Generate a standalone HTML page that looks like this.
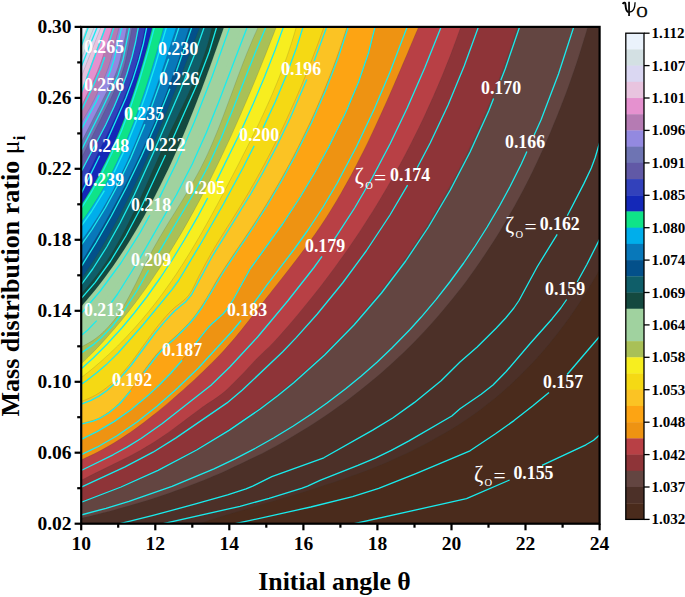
<!DOCTYPE html>
<html><head><meta charset="utf-8"><title>Contour</title>
<style>
html,body{margin:0;padding:0;background:#fff;}
body{width:685px;height:597px;overflow:hidden;font-family:"Liberation Serif",serif;}
svg{display:block;}
text{font-family:"Liberation Serif",serif;font-weight:bold;}
</style></head><body>
<svg width="685" height="597" viewBox="0 0 685 597">
<defs><clipPath id="pc"><rect x="81.2" y="26.9" width="518.4" height="496.8"/></clipPath></defs>
<rect x="0" y="0" width="685" height="597" fill="#fff"/>
<g clip-path="url(#pc)">
<rect x="81.2" y="26.9" width="518.4" height="496.8" fill="#4a2b1c"/>
<path d="M174.3,531.7 C178.0,530.5 190.0,526.5 197.5,524.1 C204.9,521.7 213.3,519.0 220.8,516.7 C228.4,514.4 236.9,511.8 244.5,509.6 C252.1,507.3 260.6,504.8 268.2,502.5 C275.8,500.3 284.4,497.8 291.9,495.5 C299.5,493.2 308.0,490.6 315.4,488.2 C322.9,485.8 331.3,483.1 338.6,480.6 C345.9,478.1 354.1,475.2 361.2,472.5 C368.4,469.8 376.3,466.7 383.3,463.7 C390.2,460.8 397.9,457.4 404.6,454.3 C411.3,451.1 418.5,447.5 425.1,444.1 C431.7,440.6 439.3,436.3 445.6,432.6 C451.9,428.8 458.6,424.6 464.5,420.7 C470.4,416.8 476.9,412.2 482.5,407.9 C488.1,403.7 494.3,398.8 499.6,394.3 C504.9,389.7 510.8,384.5 515.8,379.7 C520.9,374.9 526.4,369.3 531.2,364.3 C536.0,359.2 541.2,353.4 545.7,348.0 C550.2,342.7 555.2,336.6 559.4,331.0 C563.7,325.4 568.4,319.0 572.4,313.2 C576.4,307.4 580.8,300.7 584.6,294.7 C588.4,288.6 592.6,281.7 596.2,275.4 C599.8,269.2 605.4,258.9 607.2,255.7 L649.6,255.7 L649.6,-50.0 L-50.0,-50.0 L-50.0,573.7 L174.3,573.7 Z" fill="#4c3028"/>
<path d="M74.3,519.8 C79.6,518.5 97.3,514.4 107.6,511.7 C117.9,509.0 128.5,506.0 138.5,503.0 C148.4,500.0 160.1,496.2 169.7,492.9 C179.3,489.5 189.2,485.8 198.5,482.2 C207.8,478.5 218.5,474.0 227.6,469.9 C236.8,465.8 247.0,460.9 255.7,456.6 C264.3,452.3 273.2,447.6 281.5,442.9 C289.8,438.2 299.5,432.5 307.4,427.5 C315.4,422.5 323.6,417.1 331.3,411.8 C338.9,406.5 347.7,400.1 355.1,394.3 C362.6,388.6 371.0,381.7 378.0,375.8 C384.9,369.8 392.1,363.4 398.8,357.1 C405.4,350.8 413.2,343.1 419.5,336.4 C425.9,329.8 432.4,322.7 438.4,315.7 C444.4,308.8 451.2,300.5 457.1,293.1 C462.9,285.7 469.4,277.0 474.7,269.4 C480.1,261.9 485.6,253.7 490.7,245.8 C495.8,238.0 501.7,228.4 506.5,220.2 C511.2,212.1 516.1,203.3 520.6,194.9 C525.1,186.4 530.2,176.4 534.5,167.4 C538.8,158.5 543.6,148.1 547.5,139.1 C551.4,130.1 555.4,120.4 559.1,111.1 C562.8,101.8 567.0,90.6 570.4,81.0 C573.8,71.5 577.2,61.2 580.3,51.4 C583.5,41.6 588.4,24.8 590.0,19.7 L590.0,-50.0 L-50.0,-50.0 L-50.0,519.8 Z" fill="#634541"/>
<path d="M73.3,504.7 C77.7,503.0 92.5,497.8 101.0,494.4 C109.6,491.1 118.5,487.4 126.8,483.8 C135.1,480.2 144.9,475.8 152.9,471.9 C160.9,468.1 169.3,463.8 177.0,459.7 C184.8,455.6 193.9,450.5 201.5,446.1 C209.0,441.7 216.8,437.0 224.0,432.3 C231.3,427.7 239.8,422.0 246.8,417.1 C253.8,412.2 261.1,406.9 267.8,401.7 C274.6,396.6 282.3,390.4 289.0,384.9 C295.6,379.3 303.1,372.8 309.3,367.2 C315.6,361.5 322.0,355.4 328.0,349.5 C334.0,343.6 341.0,336.4 346.8,330.3 C352.6,324.2 358.5,317.6 364.0,311.2 C369.5,304.8 376.0,297.0 381.3,290.4 C386.6,283.8 392.0,276.7 397.1,269.8 C402.1,263.0 407.9,254.8 412.8,247.6 C417.7,240.3 423.2,231.9 427.8,224.5 C432.4,217.2 437.1,209.4 441.4,201.8 C445.8,194.3 450.8,185.1 455.0,177.3 C459.1,169.6 463.3,161.2 467.2,153.2 C471.1,145.2 475.7,135.6 479.3,127.3 C483.0,119.1 486.8,110.3 490.3,101.9 C493.7,93.5 497.7,83.3 501.0,74.6 C504.2,66.0 507.6,56.7 510.6,47.9 C513.6,39.0 518.5,23.8 520.0,19.2 L520.0,-50.0 L-50.0,-50.0 L-50.0,504.7 Z" fill="#8e3438"/>
<path d="M73.7,484.1 C77.2,482.3 88.6,476.5 95.9,472.8 C103.2,469.2 112.1,465.0 119.4,461.3 C126.7,457.7 134.4,453.8 141.4,449.8 C148.3,445.8 156.3,440.7 162.9,436.3 C169.4,431.9 176.0,426.9 182.3,422.2 C188.6,417.6 195.9,411.8 202.3,407.2 C208.7,402.7 216.1,398.6 222.2,393.6 C228.2,388.7 234.6,382.0 240.0,376.5 C245.5,371.0 250.9,364.6 256.2,359.2 C261.5,353.8 267.9,348.3 273.2,342.7 C278.6,337.1 284.6,330.1 289.7,324.2 C294.7,318.3 300.0,312.0 304.9,306.0 C309.9,299.9 315.7,292.7 320.5,286.5 C325.2,280.3 330.2,273.7 334.8,267.4 C339.5,261.0 344.9,253.4 349.4,246.9 C353.9,240.4 358.6,233.4 362.8,226.9 C367.0,220.4 371.6,213.2 375.8,206.4 C379.9,199.6 384.8,191.4 388.8,184.4 C392.8,177.4 397.0,170.0 400.8,162.9 C404.7,155.8 409.1,147.2 412.8,139.9 C416.5,132.6 420.3,124.8 423.8,117.4 C427.3,109.9 431.4,100.9 434.7,93.3 C438.0,85.7 441.5,77.6 444.6,69.8 C447.8,62.0 451.5,52.5 454.4,44.6 C457.4,36.6 461.9,23.9 463.3,20.0 L463.3,-50.0 L-50.0,-50.0 L-50.0,484.1 Z" fill="#b84045"/>
<path d="M73.9,463.1 C77.3,461.5 88.5,456.7 95.3,453.3 C102.1,449.8 109.8,445.4 116.2,441.6 C122.5,437.7 129.1,433.2 134.9,429.1 C140.7,424.9 146.9,420.2 152.6,415.6 C158.3,411.1 165.0,405.6 170.5,400.9 C176.0,396.2 181.9,391.1 187.1,386.3 C192.4,381.6 198.1,376.4 203.3,371.3 C208.5,366.3 214.6,360.2 219.6,355.0 C224.5,349.8 229.7,344.0 234.3,338.6 C238.9,333.2 243.7,327.0 248.2,321.3 C252.7,315.6 258.0,308.7 262.5,303.0 C266.9,297.2 271.8,291.1 276.2,285.5 C280.6,279.9 285.6,273.7 289.9,268.0 C294.3,262.4 299.1,256.2 303.4,250.3 C307.7,244.5 312.8,237.4 317.0,231.3 C321.2,225.3 325.5,218.7 329.4,212.5 C333.2,206.4 337.3,199.5 341.1,193.0 C344.8,186.6 349.1,178.7 352.7,172.1 C356.2,165.4 359.9,158.1 363.3,151.5 C366.6,144.8 370.2,137.4 373.4,130.4 C376.7,123.5 380.5,115.1 383.7,108.1 C386.9,101.1 390.2,93.4 393.2,86.5 C396.3,79.5 399.6,71.8 402.6,64.6 C405.7,57.5 409.3,48.9 412.3,41.7 C415.3,34.6 420.1,23.3 421.5,19.8 L421.5,-50.0 L-50.0,-50.0 L-50.0,463.1 Z" fill="#ee9312"/>
<path d="M73.5,442.9 C76.9,441.3 88.1,436.2 94.7,432.7 C101.3,429.2 108.4,425.0 114.5,421.1 C120.7,417.2 127.2,412.5 133.0,408.1 C138.8,403.6 145.4,398.0 150.8,393.1 C156.2,388.2 161.8,382.7 166.7,377.6 C171.6,372.4 176.9,366.4 181.5,361.0 C186.1,355.5 191.0,349.0 195.5,343.4 C199.9,337.8 204.7,331.2 209.5,326.0 C214.4,320.8 221.3,316.4 225.9,310.9 C230.4,305.4 234.1,297.8 237.8,291.4 C241.5,285.0 244.9,277.3 248.8,271.0 C252.8,264.6 258.0,257.7 262.3,251.7 C266.6,245.7 271.5,239.5 275.7,233.6 C279.9,227.8 284.6,221.1 288.6,215.1 C292.6,209.0 297.1,202.1 300.9,195.9 C304.8,189.7 309.0,182.6 312.7,176.2 C316.3,169.8 320.4,162.5 323.9,156.0 C327.4,149.5 331.3,142.0 334.7,135.3 C338.0,128.6 341.7,121.2 345.0,114.1 C348.2,107.1 351.9,98.6 354.9,91.3 C357.9,84.0 360.9,76.0 363.5,68.4 C366.0,60.9 368.7,52.3 370.9,44.4 C373.0,36.4 375.9,23.0 376.9,18.9 L376.9,-50.0 L-50.0,-50.0 L-50.0,442.9 Z" fill="#fda413"/>
<path d="M73.4,425.4 C77.4,424.3 91.5,421.6 98.6,418.4 C105.6,415.1 112.0,410.1 117.5,405.1 C123.0,400.1 128.2,392.9 132.8,386.9 C137.3,381.0 141.6,373.8 146.0,367.9 C150.4,362.0 155.3,355.4 160.3,350.1 C165.3,344.8 171.9,340.0 177.2,334.8 C182.6,329.6 188.8,323.5 193.5,317.7 C198.2,311.8 202.5,304.8 206.5,298.4 C210.4,292.1 214.3,284.4 218.2,278.0 C222.1,271.6 226.7,264.7 230.9,258.4 C235.0,252.1 240.2,244.8 244.4,238.5 C248.6,232.2 253.2,225.4 257.2,219.1 C261.2,212.8 265.6,205.7 269.5,199.2 C273.3,192.8 277.5,185.6 281.3,178.8 C285.1,172.1 289.4,164.1 293.0,157.2 C296.6,150.3 300.5,142.7 303.8,135.7 C307.2,128.8 310.9,120.9 314.1,113.8 C317.2,106.7 320.7,98.7 323.7,91.3 C326.8,83.8 330.3,74.9 333.2,67.3 C336.0,59.6 339.0,51.2 341.6,43.5 C344.2,35.8 348.2,23.1 349.5,19.2 L349.5,-50.0 L-50.0,-50.0 L-50.0,425.4 Z" fill="#fbc324"/>
<path d="M74.0,404.3 C77.5,402.8 89.5,398.7 96.0,394.9 C102.5,391.2 109.2,385.8 114.6,381.0 C119.9,376.1 124.9,370.1 129.5,364.5 C134.1,358.8 139.0,351.7 143.3,345.8 C147.7,339.9 152.0,333.3 156.6,327.6 C161.1,321.9 166.6,315.3 171.7,310.2 C176.8,305.1 184.0,301.4 188.5,295.6 C193.0,289.9 196.2,281.0 199.8,274.4 C203.4,267.7 207.2,260.4 210.8,254.0 C214.5,247.6 218.8,240.8 222.7,234.5 C226.6,228.2 231.4,220.8 235.3,214.5 C239.2,208.2 243.4,201.5 247.2,195.0 C251.0,188.6 255.4,180.9 259.0,174.3 C262.6,167.7 266.4,160.5 269.9,153.8 C273.4,147.0 277.4,138.9 280.7,132.0 C284.0,125.1 287.5,117.6 290.6,110.6 C293.8,103.5 297.5,95.1 300.5,87.9 C303.5,80.7 306.7,72.9 309.6,65.6 C312.5,58.2 315.8,49.5 318.6,42.0 C321.3,34.6 325.5,22.6 326.9,18.9 L326.9,-50.0 L-50.0,-50.0 L-50.0,404.3 Z" fill="#f5d914"/>
<path d="M73.4,383.6 C76.3,381.4 85.8,374.2 91.5,369.5 C97.3,364.7 103.8,359.0 109.3,353.9 C114.7,348.9 120.4,343.3 125.5,337.9 C130.6,332.5 136.5,326.0 141.3,320.4 C146.2,314.7 151.2,308.5 155.8,302.6 C160.4,296.6 165.6,289.5 169.9,283.3 C174.3,277.2 178.7,270.4 182.8,264.0 C186.9,257.6 191.6,249.9 195.5,243.3 C199.4,236.8 203.6,229.5 207.3,222.8 C211.0,216.2 215.0,208.8 218.7,202.0 C222.4,195.1 226.6,187.0 230.2,180.1 C233.8,173.2 237.7,165.8 241.2,158.9 C244.8,151.9 248.9,143.7 252.4,136.7 C255.9,129.7 259.6,122.1 262.9,114.9 C266.2,107.8 270.1,99.3 273.2,91.9 C276.3,84.5 279.6,76.5 282.5,68.9 C285.3,61.3 288.6,52.1 291.1,44.2 C293.7,36.3 297.3,23.3 298.5,19.3 L298.5,-50.0 L-50.0,-50.0 L-50.0,383.6 Z" fill="#f7ee1f"/>
<path d="M73.6,371.2 C76.2,368.6 85.0,360.4 90.2,355.1 C95.4,349.9 101.0,344.0 106.0,338.4 C111.0,332.8 116.8,326.1 121.6,320.3 C126.3,314.5 131.4,308.0 135.9,302.0 C140.4,296.1 145.3,289.2 149.6,283.1 C153.8,276.9 158.5,269.9 162.6,263.5 C166.7,257.2 171.2,250.0 175.1,243.5 C179.1,237.0 183.3,229.7 187.2,222.9 C191.0,216.1 195.4,208.1 199.1,201.2 C202.8,194.3 206.7,186.6 210.2,179.7 C213.7,172.7 217.5,164.9 220.9,157.8 C224.3,150.7 228.0,142.7 231.3,135.6 C234.5,128.4 238.1,120.3 241.3,113.0 C244.5,105.7 247.9,97.6 251.1,90.1 C254.2,82.7 257.8,73.9 260.9,66.3 C263.9,58.8 267.2,50.5 270.1,43.0 C273.1,35.5 277.8,23.2 279.2,19.5 L279.2,-50.0 L-50.0,-50.0 L-50.0,371.2 Z" fill="#a9c057"/>
<path d="M73.8,350.6 C77.2,348.8 88.9,343.5 94.9,339.1 C101.0,334.7 106.9,328.7 111.7,323.1 C116.4,317.6 120.8,310.8 124.6,304.4 C128.5,297.9 132.5,289.9 136.0,283.0 C139.5,276.1 143.2,267.9 146.7,261.1 C150.2,254.3 154.1,247.0 157.9,240.5 C161.6,233.9 166.2,226.5 170.1,220.0 C174.1,213.5 178.7,206.4 182.6,199.9 C186.6,193.3 191.0,186.0 194.7,179.3 C198.5,172.5 202.5,164.7 205.9,157.7 C209.2,150.7 212.5,143.0 215.5,135.7 C218.6,128.4 221.9,119.7 224.7,112.2 C227.6,104.6 230.8,95.8 233.6,88.3 C236.4,80.8 239.3,72.6 242.2,65.2 C245.1,57.8 248.4,49.2 251.6,41.9 C254.7,34.6 260.1,23.0 261.7,19.4 L261.7,-50.0 L-50.0,-50.0 L-50.0,350.6 Z" fill="#a0d29f"/>
<path d="M73.5,335.1 C76.0,332.4 84.2,323.8 89.1,318.3 C93.9,312.8 99.3,306.5 103.9,300.8 C108.5,295.0 113.6,288.4 117.9,282.5 C122.3,276.5 127.1,269.6 131.2,263.4 C135.4,257.2 139.9,250.1 143.8,243.7 C147.8,237.3 152.1,230.0 155.8,223.4 C159.6,216.8 163.6,209.3 167.2,202.4 C170.8,195.6 174.9,187.4 178.4,180.4 C181.8,173.3 185.5,165.5 188.8,158.4 C192.0,151.3 195.6,143.2 198.7,136.0 C201.8,128.8 205.3,120.6 208.3,113.2 C211.3,105.9 214.6,97.6 217.5,90.1 C220.4,82.7 223.6,74.3 226.4,66.8 C229.3,59.2 232.4,50.7 235.2,43.1 C237.9,35.6 242.4,23.2 243.7,19.4 L243.7,-50.0 L-50.0,-50.0 L-50.0,335.1 Z" fill="#a0d29f"/>
<path d="M73.4,315.2 C75.8,312.5 83.6,303.9 88.2,298.3 C92.9,292.7 98.3,286.0 102.7,280.2 C107.2,274.3 111.8,267.8 116.0,261.7 C120.2,255.6 124.9,248.4 128.9,242.0 C132.9,235.7 137.0,228.7 140.8,222.1 C144.5,215.6 148.7,207.8 152.3,201.1 C155.8,194.3 159.6,186.8 162.9,180.0 C166.3,173.2 169.9,165.5 173.1,158.4 C176.3,151.3 179.9,143.0 183.0,135.7 C186.1,128.5 189.3,120.6 192.2,113.2 C195.2,105.9 198.5,97.2 201.4,89.8 C204.2,82.3 207.2,74.2 210.0,66.6 C212.7,59.1 215.8,50.2 218.5,42.6 C221.2,35.0 225.4,22.8 226.7,19.0 L226.7,-50.0 L-50.0,-50.0 L-50.0,315.2 Z" fill="#14493f"/>
<path d="M73.5,302.2 C76.0,299.5 84.3,290.8 89.0,285.1 C93.7,279.4 98.8,272.8 103.0,266.6 C107.3,260.4 111.8,253.2 115.7,246.6 C119.5,240.0 123.6,232.4 127.1,225.5 C130.7,218.6 134.5,210.7 137.8,203.6 C141.1,196.5 144.8,188.4 148.0,181.2 C151.2,174.0 154.8,165.8 158.0,158.6 C161.2,151.4 164.8,143.3 168.2,136.1 C171.5,129.0 175.3,121.1 178.7,114.1 C182.0,107.0 185.9,99.1 189.1,91.9 C192.4,84.8 196.0,76.6 198.9,69.1 C201.9,61.6 205.0,53.0 207.4,45.0 C209.8,37.0 213.0,23.2 214.0,19.0 L214.0,-50.0 L-50.0,-50.0 L-50.0,302.2 Z" fill="#0f5e69"/>
<path d="M73.3,290.6 C75.5,287.4 82.8,277.0 87.1,270.6 C91.3,264.2 95.9,257.1 99.9,250.5 C103.9,243.8 108.5,236.0 112.3,229.1 C116.1,222.3 120.1,214.6 123.7,207.6 C127.3,200.5 131.4,192.3 134.8,185.0 C138.3,177.7 142.2,169.3 145.5,161.9 C148.8,154.5 152.3,146.4 155.5,138.9 C158.6,131.4 162.2,122.6 165.3,115.1 C168.4,107.5 171.7,99.2 174.8,91.5 C177.8,83.9 181.3,75.0 184.3,67.3 C187.3,59.6 190.5,51.2 193.5,43.5 C196.5,35.9 201.4,23.1 202.9,19.3 L202.9,-50.0 L-50.0,-50.0 L-50.0,290.6 Z" fill="#03508a"/>
<path d="M73.4,274.8 C75.5,271.5 82.2,260.8 86.4,254.0 C90.5,247.2 95.2,239.4 99.3,232.5 C103.3,225.6 107.6,217.9 111.4,210.9 C115.3,203.9 119.5,196.1 123.2,188.9 C126.9,181.7 131.1,173.2 134.7,165.9 C138.2,158.5 142.0,150.4 145.4,142.9 C148.8,135.4 152.7,126.6 155.9,118.9 C159.1,111.2 162.6,102.6 165.6,94.9 C168.7,87.1 171.9,78.3 174.8,70.3 C177.7,62.3 181.0,52.9 183.7,44.7 C186.4,36.5 190.5,23.1 191.8,19.0 L191.8,-50.0 L-50.0,-50.0 L-50.0,274.8 Z" fill="#0878ba"/>
<path d="M73.5,251.4 C75.8,248.3 83.3,238.4 87.7,232.1 C92.2,225.7 96.9,218.5 101.0,211.7 C105.1,204.9 109.6,196.9 113.4,189.8 C117.1,182.7 121.1,174.6 124.5,167.3 C127.9,160.0 131.6,151.5 134.8,144.0 C138.0,136.4 141.4,127.7 144.4,119.9 C147.4,112.2 150.6,103.4 153.5,95.4 C156.3,87.4 159.5,78.0 162.3,69.9 C165.0,61.8 168.0,52.7 170.7,44.6 C173.3,36.5 177.6,23.3 178.9,19.3 L178.9,-50.0 L-50.0,-50.0 L-50.0,251.4 Z" fill="#00aeeb"/>
<path d="M73.3,232.7 C75.6,229.6 83.2,219.7 87.6,213.2 C92.1,206.7 97.0,199.0 101.1,192.2 C105.1,185.3 109.3,177.4 113.0,170.2 C116.6,163.0 120.4,154.7 123.7,147.1 C127.0,139.4 130.6,130.4 133.6,122.5 C136.6,114.6 139.8,105.7 142.5,97.6 C145.3,89.5 148.2,80.3 150.8,72.0 C153.3,63.6 156.2,53.9 158.6,45.4 C161.1,36.9 164.8,23.2 166.0,18.9 L166.0,-50.0 L-50.0,-50.0 L-50.0,232.7 Z" fill="#0fe388"/>
<path d="M73.4,217.3 C75.6,213.9 82.8,203.0 87.0,196.0 C91.2,189.0 95.8,181.0 99.7,173.7 C103.5,166.3 107.7,157.8 111.2,150.1 C114.7,142.5 118.4,133.5 121.6,125.6 C124.7,117.6 128.0,108.7 130.9,100.4 C133.8,92.2 136.9,82.6 139.5,74.0 C142.1,65.5 144.9,55.7 147.3,46.9 C149.7,38.1 153.3,23.5 154.5,19.1 L154.5,-50.0 L-50.0,-50.0 L-50.0,217.3 Z" fill="#1428b8"/>
<path d="M73.2,206.6 C74.8,203.0 79.9,191.4 83.2,184.2 C86.5,177.1 90.4,168.9 93.8,161.9 C97.2,154.8 101.1,147.2 104.5,140.2 C107.9,133.2 111.9,125.1 115.1,118.0 C118.4,110.8 122.0,102.8 125.0,95.4 C128.0,88.1 131.2,79.7 133.8,71.8 C136.4,64.0 139.1,54.7 141.1,46.3 C143.1,37.9 145.6,23.5 146.4,19.2 L146.4,-50.0 L-50.0,-50.0 L-50.0,206.6 Z" fill="#3241bb"/>
<path d="M73.3,187.3 C75.2,183.8 81.3,172.3 85.1,165.3 C88.8,158.3 93.0,150.6 96.6,143.5 C100.3,136.5 104.4,128.3 107.9,121.1 C111.4,113.8 115.1,105.7 118.2,98.1 C121.3,90.5 124.7,81.6 127.4,73.5 C130.0,65.4 132.7,56.2 134.7,47.6 C136.8,38.9 139.3,23.8 140.2,19.2 L140.2,-50.0 L-50.0,-50.0 L-50.0,187.3 Z" fill="#6159a6"/>
<path d="M78.5,164.2 C79.0,163.0 76.8,167.6 82.0,157.0 C87.2,146.4 104.3,112.4 111.0,98.0 C117.7,83.6 120.4,78.7 123.8,67.3 C127.2,55.9 130.6,34.7 132.2,27.0 C133.8,19.3 133.6,20.4 133.8,19.2 L133.8,-50.0 L-50.0,-50.0 L-50.0,164.2 Z" fill="#6e74b3"/>
<path d="M78.4,148.1 C79.0,147.0 78.0,149.0 82.0,141.0 C86.0,133.0 97.8,109.8 103.6,98.0 C109.4,86.2 114.3,78.7 118.0,67.3 C121.7,55.9 125.3,34.7 127.0,27.0 C128.7,19.3 128.5,20.4 128.7,19.2 L128.7,-50.0 L-50.0,-50.0 L-50.0,148.1 Z" fill="#9389e0"/>
<path d="M78.2,129.0 C78.8,127.9 79.3,127.0 82.0,122.0 C84.7,117.0 90.8,106.8 95.0,98.0 C99.2,89.2 104.6,78.7 108.5,67.3 C112.4,55.9 117.2,34.7 119.2,27.0 C121.2,19.3 120.9,20.5 121.3,19.3 L121.3,-50.0 L-50.0,-50.0 L-50.0,129.0 Z" fill="#b57bb3"/>
<path d="M78.7,112.3 C79.2,111.1 78.8,112.2 82.0,105.0 C85.2,97.8 94.2,79.8 99.0,67.3 C103.8,54.8 109.8,34.7 112.3,27.0 C114.8,19.3 114.4,20.6 114.8,19.4 L114.8,-50.0 L-50.0,-50.0 L-50.0,112.3 Z" fill="#e591cf"/>
<path d="M79.3,97.5 C79.7,96.3 80.3,94.8 82.0,90.0 C83.7,85.2 86.5,77.4 90.2,67.3 C93.9,57.2 102.4,34.6 105.2,27.0 C108.0,19.4 107.5,20.7 108.0,19.5 L108.0,-50.0 L-50.0,-50.0 L-50.0,97.5 Z" fill="#e8c4df"/>
<path d="M79.1,82.5 C79.6,81.3 81.1,77.4 82.0,75.0 C82.9,72.6 82.0,75.0 85.0,67.3 C88.0,59.6 98.0,34.6 101.0,27.0 C104.0,19.4 103.5,20.8 104.0,19.6 L104.0,-50.0 L-50.0,-50.0 L-50.0,82.5 Z" fill="#dad7f2"/>
<path d="M79.0,64.4 C79.5,63.2 79.5,63.0 82.0,57.0 C84.5,51.0 91.8,33.0 94.3,27.0 C96.8,21.0 96.8,20.8 97.3,19.6 L97.3,-50.0 L-50.0,-50.0 L-50.0,64.4 Z" fill="#d3e0e3"/>
<path d="M79.3,48.5 C79.7,47.3 80.7,44.4 82.0,41.0 C83.3,37.6 85.8,30.4 87.1,27.0 C88.4,23.6 89.4,20.7 89.8,19.5 L89.8,-50.0 L-50.0,-50.0 L-50.0,48.5 Z" fill="#eaf2fb"/>
<path d="M79.3,48.5 C79.7,47.3 80.7,44.4 82.0,41.0 C83.3,37.6 85.8,30.4 87.1,27.0 C88.4,23.6 89.4,20.7 89.8,19.5" fill="none" stroke="#3a3a3a" stroke-opacity="0.22" stroke-width="0.7"/>
<path d="M79.0,64.4 C79.5,63.2 79.5,63.0 82.0,57.0 C84.5,51.0 91.8,33.0 94.3,27.0 C96.8,21.0 96.8,20.8 97.3,19.6" fill="none" stroke="#3a3a3a" stroke-opacity="0.22" stroke-width="0.7"/>
<path d="M79.1,82.5 C79.6,81.3 81.1,77.4 82.0,75.0 C82.9,72.6 82.0,75.0 85.0,67.3 C88.0,59.6 98.0,34.6 101.0,27.0 C104.0,19.4 103.5,20.8 104.0,19.6" fill="none" stroke="#3a3a3a" stroke-opacity="0.22" stroke-width="0.7"/>
<path d="M79.3,97.5 C79.7,96.3 80.3,94.8 82.0,90.0 C83.7,85.2 86.5,77.4 90.2,67.3 C93.9,57.2 102.4,34.6 105.2,27.0 C108.0,19.4 107.5,20.7 108.0,19.5" fill="none" stroke="#3a3a3a" stroke-opacity="0.22" stroke-width="0.7"/>
<path d="M78.7,112.3 C79.2,111.1 78.8,112.2 82.0,105.0 C85.2,97.8 94.2,79.8 99.0,67.3 C103.8,54.8 109.8,34.7 112.3,27.0 C114.8,19.3 114.4,20.6 114.8,19.4" fill="none" stroke="#3a3a3a" stroke-opacity="0.22" stroke-width="0.7"/>
<path d="M78.2,129.0 C78.8,127.9 79.3,127.0 82.0,122.0 C84.7,117.0 90.8,106.8 95.0,98.0 C99.2,89.2 104.6,78.7 108.5,67.3 C112.4,55.9 117.2,34.7 119.2,27.0 C121.2,19.3 120.9,20.5 121.3,19.3" fill="none" stroke="#3a3a3a" stroke-opacity="0.22" stroke-width="0.7"/>
<path d="M78.4,148.1 C79.0,147.0 78.0,149.0 82.0,141.0 C86.0,133.0 97.8,109.8 103.6,98.0 C109.4,86.2 114.3,78.7 118.0,67.3 C121.7,55.9 125.3,34.7 127.0,27.0 C128.7,19.3 128.5,20.4 128.7,19.2" fill="none" stroke="#3a3a3a" stroke-opacity="0.22" stroke-width="0.7"/>
<path d="M78.5,164.2 C79.0,163.0 76.8,167.6 82.0,157.0 C87.2,146.4 104.3,112.4 111.0,98.0 C117.7,83.6 120.4,78.7 123.8,67.3 C127.2,55.9 130.6,34.7 132.2,27.0 C133.8,19.3 133.6,20.4 133.8,19.2" fill="none" stroke="#3a3a3a" stroke-opacity="0.22" stroke-width="0.7"/>
<path d="M73.3,187.3 C75.2,183.8 81.3,172.3 85.1,165.3 C88.8,158.3 93.0,150.6 96.6,143.5 C100.3,136.5 104.4,128.3 107.9,121.1 C111.4,113.8 115.1,105.7 118.2,98.1 C121.3,90.5 124.7,81.6 127.4,73.5 C130.0,65.4 132.7,56.2 134.7,47.6 C136.8,38.9 139.3,23.8 140.2,19.2" fill="none" stroke="#3a3a3a" stroke-opacity="0.22" stroke-width="0.7"/>
<path d="M73.2,206.6 C74.8,203.0 79.9,191.4 83.2,184.2 C86.5,177.1 90.4,168.9 93.8,161.9 C97.2,154.8 101.1,147.2 104.5,140.2 C107.9,133.2 111.9,125.1 115.1,118.0 C118.4,110.8 122.0,102.8 125.0,95.4 C128.0,88.1 131.2,79.7 133.8,71.8 C136.4,64.0 139.1,54.7 141.1,46.3 C143.1,37.9 145.6,23.5 146.4,19.2" fill="none" stroke="#3a3a3a" stroke-opacity="0.22" stroke-width="0.7"/>
<path d="M73.4,217.3 C75.6,213.9 82.8,203.0 87.0,196.0 C91.2,189.0 95.8,181.0 99.7,173.7 C103.5,166.3 107.7,157.8 111.2,150.1 C114.7,142.5 118.4,133.5 121.6,125.6 C124.7,117.6 128.0,108.7 130.9,100.4 C133.8,92.2 136.9,82.6 139.5,74.0 C142.1,65.5 144.9,55.7 147.3,46.9 C149.7,38.1 153.3,23.5 154.5,19.1" fill="none" stroke="#3a3a3a" stroke-opacity="0.22" stroke-width="0.7"/>
<path d="M73.3,232.7 C75.6,229.6 83.2,219.7 87.6,213.2 C92.1,206.7 97.0,199.0 101.1,192.2 C105.1,185.3 109.3,177.4 113.0,170.2 C116.6,163.0 120.4,154.7 123.7,147.1 C127.0,139.4 130.6,130.4 133.6,122.5 C136.6,114.6 139.8,105.7 142.5,97.6 C145.3,89.5 148.2,80.3 150.8,72.0 C153.3,63.6 156.2,53.9 158.6,45.4 C161.1,36.9 164.8,23.2 166.0,18.9" fill="none" stroke="#3a3a3a" stroke-opacity="0.22" stroke-width="0.7"/>
<path d="M73.5,251.4 C75.8,248.3 83.3,238.4 87.7,232.1 C92.2,225.7 96.9,218.5 101.0,211.7 C105.1,204.9 109.6,196.9 113.4,189.8 C117.1,182.7 121.1,174.6 124.5,167.3 C127.9,160.0 131.6,151.5 134.8,144.0 C138.0,136.4 141.4,127.7 144.4,119.9 C147.4,112.2 150.6,103.4 153.5,95.4 C156.3,87.4 159.5,78.0 162.3,69.9 C165.0,61.8 168.0,52.7 170.7,44.6 C173.3,36.5 177.6,23.3 178.9,19.3" fill="none" stroke="#3a3a3a" stroke-opacity="0.22" stroke-width="0.7"/>
<path d="M73.4,274.8 C75.5,271.5 82.2,260.8 86.4,254.0 C90.5,247.2 95.2,239.4 99.3,232.5 C103.3,225.6 107.6,217.9 111.4,210.9 C115.3,203.9 119.5,196.1 123.2,188.9 C126.9,181.7 131.1,173.2 134.7,165.9 C138.2,158.5 142.0,150.4 145.4,142.9 C148.8,135.4 152.7,126.6 155.9,118.9 C159.1,111.2 162.6,102.6 165.6,94.9 C168.7,87.1 171.9,78.3 174.8,70.3 C177.7,62.3 181.0,52.9 183.7,44.7 C186.4,36.5 190.5,23.1 191.8,19.0" fill="none" stroke="#3a3a3a" stroke-opacity="0.22" stroke-width="0.7"/>
<path d="M73.3,290.6 C75.5,287.4 82.8,277.0 87.1,270.6 C91.3,264.2 95.9,257.1 99.9,250.5 C103.9,243.8 108.5,236.0 112.3,229.1 C116.1,222.3 120.1,214.6 123.7,207.6 C127.3,200.5 131.4,192.3 134.8,185.0 C138.3,177.7 142.2,169.3 145.5,161.9 C148.8,154.5 152.3,146.4 155.5,138.9 C158.6,131.4 162.2,122.6 165.3,115.1 C168.4,107.5 171.7,99.2 174.8,91.5 C177.8,83.9 181.3,75.0 184.3,67.3 C187.3,59.6 190.5,51.2 193.5,43.5 C196.5,35.9 201.4,23.1 202.9,19.3" fill="none" stroke="#3a3a3a" stroke-opacity="0.22" stroke-width="0.7"/>
<path d="M73.5,302.2 C76.0,299.5 84.3,290.8 89.0,285.1 C93.7,279.4 98.8,272.8 103.0,266.6 C107.3,260.4 111.8,253.2 115.7,246.6 C119.5,240.0 123.6,232.4 127.1,225.5 C130.7,218.6 134.5,210.7 137.8,203.6 C141.1,196.5 144.8,188.4 148.0,181.2 C151.2,174.0 154.8,165.8 158.0,158.6 C161.2,151.4 164.8,143.3 168.2,136.1 C171.5,129.0 175.3,121.1 178.7,114.1 C182.0,107.0 185.9,99.1 189.1,91.9 C192.4,84.8 196.0,76.6 198.9,69.1 C201.9,61.6 205.0,53.0 207.4,45.0 C209.8,37.0 213.0,23.2 214.0,19.0" fill="none" stroke="#3a3a3a" stroke-opacity="0.22" stroke-width="0.7"/>
<path d="M73.4,315.2 C75.8,312.5 83.6,303.9 88.2,298.3 C92.9,292.7 98.3,286.0 102.7,280.2 C107.2,274.3 111.8,267.8 116.0,261.7 C120.2,255.6 124.9,248.4 128.9,242.0 C132.9,235.7 137.0,228.7 140.8,222.1 C144.5,215.6 148.7,207.8 152.3,201.1 C155.8,194.3 159.6,186.8 162.9,180.0 C166.3,173.2 169.9,165.5 173.1,158.4 C176.3,151.3 179.9,143.0 183.0,135.7 C186.1,128.5 189.3,120.6 192.2,113.2 C195.2,105.9 198.5,97.2 201.4,89.8 C204.2,82.3 207.2,74.2 210.0,66.6 C212.7,59.1 215.8,50.2 218.5,42.6 C221.2,35.0 225.4,22.8 226.7,19.0" fill="none" stroke="#3a3a3a" stroke-opacity="0.22" stroke-width="0.7"/>
<path d="M73.8,350.6 C77.2,348.8 88.9,343.5 94.9,339.1 C101.0,334.7 106.9,328.7 111.7,323.1 C116.4,317.6 120.8,310.8 124.6,304.4 C128.5,297.9 132.5,289.9 136.0,283.0 C139.5,276.1 143.2,267.9 146.7,261.1 C150.2,254.3 154.1,247.0 157.9,240.5 C161.6,233.9 166.2,226.5 170.1,220.0 C174.1,213.5 178.7,206.4 182.6,199.9 C186.6,193.3 191.0,186.0 194.7,179.3 C198.5,172.5 202.5,164.7 205.9,157.7 C209.2,150.7 212.5,143.0 215.5,135.7 C218.6,128.4 221.9,119.7 224.7,112.2 C227.6,104.6 230.8,95.8 233.6,88.3 C236.4,80.8 239.3,72.6 242.2,65.2 C245.1,57.8 248.4,49.2 251.6,41.9 C254.7,34.6 260.1,23.0 261.7,19.4" fill="none" stroke="#3a3a3a" stroke-opacity="0.22" stroke-width="0.7"/>
<path d="M73.6,371.2 C76.2,368.6 85.0,360.4 90.2,355.1 C95.4,349.9 101.0,344.0 106.0,338.4 C111.0,332.8 116.8,326.1 121.6,320.3 C126.3,314.5 131.4,308.0 135.9,302.0 C140.4,296.1 145.3,289.2 149.6,283.1 C153.8,276.9 158.5,269.9 162.6,263.5 C166.7,257.2 171.2,250.0 175.1,243.5 C179.1,237.0 183.3,229.7 187.2,222.9 C191.0,216.1 195.4,208.1 199.1,201.2 C202.8,194.3 206.7,186.6 210.2,179.7 C213.7,172.7 217.5,164.9 220.9,157.8 C224.3,150.7 228.0,142.7 231.3,135.6 C234.5,128.4 238.1,120.3 241.3,113.0 C244.5,105.7 247.9,97.6 251.1,90.1 C254.2,82.7 257.8,73.9 260.9,66.3 C263.9,58.8 267.2,50.5 270.1,43.0 C273.1,35.5 277.8,23.2 279.2,19.5" fill="none" stroke="#3a3a3a" stroke-opacity="0.22" stroke-width="0.7"/>
<path d="M73.4,383.6 C76.3,381.4 85.8,374.2 91.5,369.5 C97.3,364.7 103.8,359.0 109.3,353.9 C114.7,348.9 120.4,343.3 125.5,337.9 C130.6,332.5 136.5,326.0 141.3,320.4 C146.2,314.7 151.2,308.5 155.8,302.6 C160.4,296.6 165.6,289.5 169.9,283.3 C174.3,277.2 178.7,270.4 182.8,264.0 C186.9,257.6 191.6,249.9 195.5,243.3 C199.4,236.8 203.6,229.5 207.3,222.8 C211.0,216.2 215.0,208.8 218.7,202.0 C222.4,195.1 226.6,187.0 230.2,180.1 C233.8,173.2 237.7,165.8 241.2,158.9 C244.8,151.9 248.9,143.7 252.4,136.7 C255.9,129.7 259.6,122.1 262.9,114.9 C266.2,107.8 270.1,99.3 273.2,91.9 C276.3,84.5 279.6,76.5 282.5,68.9 C285.3,61.3 288.6,52.1 291.1,44.2 C293.7,36.3 297.3,23.3 298.5,19.3" fill="none" stroke="#3a3a3a" stroke-opacity="0.22" stroke-width="0.7"/>
<path d="M74.0,404.3 C77.5,402.8 89.5,398.7 96.0,394.9 C102.5,391.2 109.2,385.8 114.6,381.0 C119.9,376.1 124.9,370.1 129.5,364.5 C134.1,358.8 139.0,351.7 143.3,345.8 C147.7,339.9 152.0,333.3 156.6,327.6 C161.1,321.9 166.6,315.3 171.7,310.2 C176.8,305.1 184.0,301.4 188.5,295.6 C193.0,289.9 196.2,281.0 199.8,274.4 C203.4,267.7 207.2,260.4 210.8,254.0 C214.5,247.6 218.8,240.8 222.7,234.5 C226.6,228.2 231.4,220.8 235.3,214.5 C239.2,208.2 243.4,201.5 247.2,195.0 C251.0,188.6 255.4,180.9 259.0,174.3 C262.6,167.7 266.4,160.5 269.9,153.8 C273.4,147.0 277.4,138.9 280.7,132.0 C284.0,125.1 287.5,117.6 290.6,110.6 C293.8,103.5 297.5,95.1 300.5,87.9 C303.5,80.7 306.7,72.9 309.6,65.6 C312.5,58.2 315.8,49.5 318.6,42.0 C321.3,34.6 325.5,22.6 326.9,18.9" fill="none" stroke="#3a3a3a" stroke-opacity="0.22" stroke-width="0.7"/>
<path d="M73.4,425.4 C77.4,424.3 91.5,421.6 98.6,418.4 C105.6,415.1 112.0,410.1 117.5,405.1 C123.0,400.1 128.2,392.9 132.8,386.9 C137.3,381.0 141.6,373.8 146.0,367.9 C150.4,362.0 155.3,355.4 160.3,350.1 C165.3,344.8 171.9,340.0 177.2,334.8 C182.6,329.6 188.8,323.5 193.5,317.7 C198.2,311.8 202.5,304.8 206.5,298.4 C210.4,292.1 214.3,284.4 218.2,278.0 C222.1,271.6 226.7,264.7 230.9,258.4 C235.0,252.1 240.2,244.8 244.4,238.5 C248.6,232.2 253.2,225.4 257.2,219.1 C261.2,212.8 265.6,205.7 269.5,199.2 C273.3,192.8 277.5,185.6 281.3,178.8 C285.1,172.1 289.4,164.1 293.0,157.2 C296.6,150.3 300.5,142.7 303.8,135.7 C307.2,128.8 310.9,120.9 314.1,113.8 C317.2,106.7 320.7,98.7 323.7,91.3 C326.8,83.8 330.3,74.9 333.2,67.3 C336.0,59.6 339.0,51.2 341.6,43.5 C344.2,35.8 348.2,23.1 349.5,19.2" fill="none" stroke="#3a3a3a" stroke-opacity="0.22" stroke-width="0.7"/>
<path d="M73.5,442.9 C76.9,441.3 88.1,436.2 94.7,432.7 C101.3,429.2 108.4,425.0 114.5,421.1 C120.7,417.2 127.2,412.5 133.0,408.1 C138.8,403.6 145.4,398.0 150.8,393.1 C156.2,388.2 161.8,382.7 166.7,377.6 C171.6,372.4 176.9,366.4 181.5,361.0 C186.1,355.5 191.0,349.0 195.5,343.4 C199.9,337.8 204.7,331.2 209.5,326.0 C214.4,320.8 221.3,316.4 225.9,310.9 C230.4,305.4 234.1,297.8 237.8,291.4 C241.5,285.0 244.9,277.3 248.8,271.0 C252.8,264.6 258.0,257.7 262.3,251.7 C266.6,245.7 271.5,239.5 275.7,233.6 C279.9,227.8 284.6,221.1 288.6,215.1 C292.6,209.0 297.1,202.1 300.9,195.9 C304.8,189.7 309.0,182.6 312.7,176.2 C316.3,169.8 320.4,162.5 323.9,156.0 C327.4,149.5 331.3,142.0 334.7,135.3 C338.0,128.6 341.7,121.2 345.0,114.1 C348.2,107.1 351.9,98.6 354.9,91.3 C357.9,84.0 360.9,76.0 363.5,68.4 C366.0,60.9 368.7,52.3 370.9,44.4 C373.0,36.4 375.9,23.0 376.9,18.9" fill="none" stroke="#3a3a3a" stroke-opacity="0.22" stroke-width="0.7"/>
<path d="M73.9,463.1 C77.3,461.5 88.5,456.7 95.3,453.3 C102.1,449.8 109.8,445.4 116.2,441.6 C122.5,437.7 129.1,433.2 134.9,429.1 C140.7,424.9 146.9,420.2 152.6,415.6 C158.3,411.1 165.0,405.6 170.5,400.9 C176.0,396.2 181.9,391.1 187.1,386.3 C192.4,381.6 198.1,376.4 203.3,371.3 C208.5,366.3 214.6,360.2 219.6,355.0 C224.5,349.8 229.7,344.0 234.3,338.6 C238.9,333.2 243.7,327.0 248.2,321.3 C252.7,315.6 258.0,308.7 262.5,303.0 C266.9,297.2 271.8,291.1 276.2,285.5 C280.6,279.9 285.6,273.7 289.9,268.0 C294.3,262.4 299.1,256.2 303.4,250.3 C307.7,244.5 312.8,237.4 317.0,231.3 C321.2,225.3 325.5,218.7 329.4,212.5 C333.2,206.4 337.3,199.5 341.1,193.0 C344.8,186.6 349.1,178.7 352.7,172.1 C356.2,165.4 359.9,158.1 363.3,151.5 C366.6,144.8 370.2,137.4 373.4,130.4 C376.7,123.5 380.5,115.1 383.7,108.1 C386.9,101.1 390.2,93.4 393.2,86.5 C396.3,79.5 399.6,71.8 402.6,64.6 C405.7,57.5 409.3,48.9 412.3,41.7 C415.3,34.6 420.1,23.3 421.5,19.8" fill="none" stroke="#3a3a3a" stroke-opacity="0.22" stroke-width="0.7"/>
<path d="M73.7,484.1 C77.2,482.3 88.6,476.5 95.9,472.8 C103.2,469.2 112.1,465.0 119.4,461.3 C126.7,457.7 134.4,453.8 141.4,449.8 C148.3,445.8 156.3,440.7 162.9,436.3 C169.4,431.9 176.0,426.9 182.3,422.2 C188.6,417.6 195.9,411.8 202.3,407.2 C208.7,402.7 216.1,398.6 222.2,393.6 C228.2,388.7 234.6,382.0 240.0,376.5 C245.5,371.0 250.9,364.6 256.2,359.2 C261.5,353.8 267.9,348.3 273.2,342.7 C278.6,337.1 284.6,330.1 289.7,324.2 C294.7,318.3 300.0,312.0 304.9,306.0 C309.9,299.9 315.7,292.7 320.5,286.5 C325.2,280.3 330.2,273.7 334.8,267.4 C339.5,261.0 344.9,253.4 349.4,246.9 C353.9,240.4 358.6,233.4 362.8,226.9 C367.0,220.4 371.6,213.2 375.8,206.4 C379.9,199.6 384.8,191.4 388.8,184.4 C392.8,177.4 397.0,170.0 400.8,162.9 C404.7,155.8 409.1,147.2 412.8,139.9 C416.5,132.6 420.3,124.8 423.8,117.4 C427.3,109.9 431.4,100.9 434.7,93.3 C438.0,85.7 441.5,77.6 444.6,69.8 C447.8,62.0 451.5,52.5 454.4,44.6 C457.4,36.6 461.9,23.9 463.3,20.0" fill="none" stroke="#3a3a3a" stroke-opacity="0.22" stroke-width="0.7"/>
<path d="M73.3,504.7 C77.7,503.0 92.5,497.8 101.0,494.4 C109.6,491.1 118.5,487.4 126.8,483.8 C135.1,480.2 144.9,475.8 152.9,471.9 C160.9,468.1 169.3,463.8 177.0,459.7 C184.8,455.6 193.9,450.5 201.5,446.1 C209.0,441.7 216.8,437.0 224.0,432.3 C231.3,427.7 239.8,422.0 246.8,417.1 C253.8,412.2 261.1,406.9 267.8,401.7 C274.6,396.6 282.3,390.4 289.0,384.9 C295.6,379.3 303.1,372.8 309.3,367.2 C315.6,361.5 322.0,355.4 328.0,349.5 C334.0,343.6 341.0,336.4 346.8,330.3 C352.6,324.2 358.5,317.6 364.0,311.2 C369.5,304.8 376.0,297.0 381.3,290.4 C386.6,283.8 392.0,276.7 397.1,269.8 C402.1,263.0 407.9,254.8 412.8,247.6 C417.7,240.3 423.2,231.9 427.8,224.5 C432.4,217.2 437.1,209.4 441.4,201.8 C445.8,194.3 450.8,185.1 455.0,177.3 C459.1,169.6 463.3,161.2 467.2,153.2 C471.1,145.2 475.7,135.6 479.3,127.3 C483.0,119.1 486.8,110.3 490.3,101.9 C493.7,93.5 497.7,83.3 501.0,74.6 C504.2,66.0 507.6,56.7 510.6,47.9 C513.6,39.0 518.5,23.8 520.0,19.2" fill="none" stroke="#3a3a3a" stroke-opacity="0.22" stroke-width="0.7"/>
<path d="M74.3,519.8 C79.6,518.5 97.3,514.4 107.6,511.7 C117.9,509.0 128.5,506.0 138.5,503.0 C148.4,500.0 160.1,496.2 169.7,492.9 C179.3,489.5 189.2,485.8 198.5,482.2 C207.8,478.5 218.5,474.0 227.6,469.9 C236.8,465.8 247.0,460.9 255.7,456.6 C264.3,452.3 273.2,447.6 281.5,442.9 C289.8,438.2 299.5,432.5 307.4,427.5 C315.4,422.5 323.6,417.1 331.3,411.8 C338.9,406.5 347.7,400.1 355.1,394.3 C362.6,388.6 371.0,381.7 378.0,375.8 C384.9,369.8 392.1,363.4 398.8,357.1 C405.4,350.8 413.2,343.1 419.5,336.4 C425.9,329.8 432.4,322.7 438.4,315.7 C444.4,308.8 451.2,300.5 457.1,293.1 C462.9,285.7 469.4,277.0 474.7,269.4 C480.1,261.9 485.6,253.7 490.7,245.8 C495.8,238.0 501.7,228.4 506.5,220.2 C511.2,212.1 516.1,203.3 520.6,194.9 C525.1,186.4 530.2,176.4 534.5,167.4 C538.8,158.5 543.6,148.1 547.5,139.1 C551.4,130.1 555.4,120.4 559.1,111.1 C562.8,101.8 567.0,90.6 570.4,81.0 C573.8,71.5 577.2,61.2 580.3,51.4 C583.5,41.6 588.4,24.8 590.0,19.7" fill="none" stroke="#3a3a3a" stroke-opacity="0.22" stroke-width="0.7"/>
<path d="M174.3,531.7 C178.0,530.5 190.0,526.5 197.5,524.1 C204.9,521.7 213.3,519.0 220.8,516.7 C228.4,514.4 236.9,511.8 244.5,509.6 C252.1,507.3 260.6,504.8 268.2,502.5 C275.8,500.3 284.4,497.8 291.9,495.5 C299.5,493.2 308.0,490.6 315.4,488.2 C322.9,485.8 331.3,483.1 338.6,480.6 C345.9,478.1 354.1,475.2 361.2,472.5 C368.4,469.8 376.3,466.7 383.3,463.7 C390.2,460.8 397.9,457.4 404.6,454.3 C411.3,451.1 418.5,447.5 425.1,444.1 C431.7,440.6 439.3,436.3 445.6,432.6 C451.9,428.8 458.6,424.6 464.5,420.7 C470.4,416.8 476.9,412.2 482.5,407.9 C488.1,403.7 494.3,398.8 499.6,394.3 C504.9,389.7 510.8,384.5 515.8,379.7 C520.9,374.9 526.4,369.3 531.2,364.3 C536.0,359.2 541.2,353.4 545.7,348.0 C550.2,342.7 555.2,336.6 559.4,331.0 C563.7,325.4 568.4,319.0 572.4,313.2 C576.4,307.4 580.8,300.7 584.6,294.7 C588.4,288.6 592.6,281.7 596.2,275.4 C599.8,269.2 605.4,258.9 607.2,255.7" fill="none" stroke="#3a3a3a" stroke-opacity="0.22" stroke-width="0.7"/>
<g fill="none" stroke="#19ecee" stroke-width="1.3" stroke-linejoin="round">
<path d="M601.0,138.0 L595.1,157.7 L591.3,168.0 L584.0,183.4 L567.3,215.8"/>
<path d="M557.2,234.3 L537.4,266.5 L519.0,300.5 L513.9,308.0 L505.7,318.0 L496.1,328.2 L477.2,347.0 L460.0,362.0 L441.1,380.7 L414.5,402.4 L392.7,418.0 L372.7,430.1 L323.8,457.8 L271.8,476.7 L252.7,486.1 L246.0,488.9 L227.6,494.8 L194.7,504.2 L153.1,515.4 L116.0,524.6"/>
<path d="M601.0,236.5 L587.0,264.2 L577.2,282.0"/>
<path d="M566.7,299.5 L560.8,308.0 L552.2,318.7 L530.4,343.2 L506.2,371.5 L493.0,385.0 L481.2,394.2 L460.0,408.8 L451.8,416.0 L409.0,440.9 L391.3,450.4 L375.3,458.1 L357.9,465.4 L320.0,480.3 L307.6,486.1 L302.2,488.1 L269.1,498.3 L240.0,506.3 L161.0,524.2"/>
<path d="M600.0,336.0 L567.1,374.5"/>
<path d="M549.0,392.4 L532.6,406.1 L514.0,420.6 L495.5,433.7 L470.0,450.8 L416.5,473.3 L378.7,488.4 L352.6,496.7 L310.8,507.0 L234.0,524.0"/>
<path d="M600.0,434.6 L593.6,440.2 L585.9,444.8 L542.0,465.4"/>
<path d="M509.6,480.0 L466.5,498.6 L353.0,524.0"/>
<path d="M78.3,54.0 L89.5,24.0"/>
<path d="M78.3,74.0 L98.5,24.0"/>
<path d="M78.4,101.0 L106.8,24.0"/>
<path d="M78.4,117.0 L93.6,85.0 L100.5,69.0 L104.7,57.0"/>
<path d="M109.8,40.5 L114.9,24.0"/>
<path d="M78.4,135.0 L96.0,101.9 L99.2,95.0"/>
<path d="M107.7,77.1 L109.6,73.0 L114.2,59.0 L122.6,24.0"/>
<path d="M78.5,156.0 L102.5,108.0 L118.2,75.0 L123.1,59.0 L130.3,24.0"/>
<path d="M78.5,177.0 L105.6,125.0 L114.0,107.0 L120.7,91.0 L126.6,75.0 L132.0,57.0 L135.6,42.0 L139.0,24.0"/>
<path d="M78.6,199.0 L99.7,155.7"/>
<path d="M107.6,139.4 L125.9,98.0 L133.0,79.0 L139.0,60.0 L143.3,44.0 L147.4,24.0"/>
<path d="M78.2,213.0 L89.7,195.0 L101.6,174.0 L111.9,153.0 L121.4,131.0 L130.5,107.0 L139.2,81.0 L148.1,51.0 L155.3,24.0"/>
<path d="M78.4,230.0 L91.2,212.0 L104.4,190.6"/>
<path d="M114.1,172.4 L125.5,148.0 L136.3,121.0 L146.0,94.0 L155.0,66.0 L167.4,24.0"/>
<path d="M78.4,249.0 L91.7,230.0 L105.3,208.0 L117.8,185.0 L130.8,158.0 L144.9,124.3"/>
<path d="M151.5,107.1 L168.7,58.8"/>
<path d="M174.4,41.4 L180.1,24.0"/>
<path d="M78.5,271.0 L95.9,243.0 L111.3,216.0 L126.6,187.0 L141.6,156.0 L155.7,124.0 L169.9,88.7"/>
<path d="M176.3,71.5 L192.9,24.0"/>
<path d="M78.8,288.0 L92.7,269.0 L106.7,247.0 L120.1,223.0 L134.2,195.0 L152.4,155.0 L180.0,91.0 L194.8,54.0 L205.3,24.0"/>
<path d="M78.3,302.0 L95.0,282.6 L110.6,261.0 L125.9,236.0 L141.3,207.0 L165.5,154.9"/>
<path d="M172.9,138.5 L196.7,85.0 L209.2,52.0 L217.6,24.0"/>
<path d="M78.2,317.0 L100.3,291.0 L120.9,263.0 L140.0,232.9 L149.8,215.3"/>
<path d="M159.5,197.6 L176.9,162.0 L194.3,122.0 L212.3,76.0 L230.9,24.0"/>
<path d="M79.0,337.4 L88.0,329.7 L96.7,320.6"/>
<path d="M111.4,302.5 L117.6,294.0 L138.9,260.0 L176.3,195.0 L192.3,164.0 L206.2,133.0 L218.7,102.0 L248.4,24.0"/>
<path d="M78.3,355.0 L94.0,344.1 L101.0,338.0 L112.0,326.5 L121.8,314.0 L137.4,290.0 L148.6,270.3"/>
<path d="M158.4,253.2 L192.7,195.0 L208.2,166.0 L221.1,138.0 L231.8,112.0 L256.3,50.0 L267.2,24.0"/>
<path d="M78.9,371.0 L93.2,358.0 L107.2,344.0 L121.8,328.0 L134.3,313.0 L146.7,297.0 L160.2,278.0 L172.1,260.0 L184.3,240.0 L198.0,216.1 L207.7,198.0"/>
<path d="M216.2,181.4 L240.5,132.0 L253.1,104.0 L264.5,77.0 L275.1,50.0 L284.5,24.0"/>
<path d="M78.6,386.0 L86.1,381.0 L97.0,372.6 L107.0,363.9 L118.1,353.0 L142.9,325.0 L172.0,289.7 L178.9,280.0 L201.7,242.0 L223.5,204.0 L242.9,168.0 L254.2,145.8"/>
<path d="M263.1,127.9 L275.2,102.0 L286.1,76.0 L296.4,48.0 L304.0,24.0"/>
<path d="M79.0,405.0 L91.0,400.4 L99.0,396.1 L107.0,390.5 L117.0,381.6 L130.6,366.0 L154.4,334.0 L164.0,322.4 L174.6,311.0 L186.0,301.4 L191.4,295.0 L211.8,257.0 L250.7,194.0 L263.2,172.0 L276.3,147.0 L290.0,118.5 L306.8,79.5"/>
<path d="M314.1,61.2 L327.8,24.0"/>
<path d="M79.0,424.7 L93.0,421.1 L100.0,418.3 L108.7,413.0 L119.0,404.5 L130.8,390.7"/>
<path d="M143.7,372.8 L157.5,355.0 L163.0,349.0 L176.4,337.0 L188.0,325.3 L195.1,317.0 L202.3,307.0 L224.6,270.0 L254.1,226.0 L266.8,206.0 L281.5,181.0 L295.1,156.0 L311.4,123.0 L325.4,91.0 L338.1,58.0 L349.3,24.0"/>
<path d="M79.0,440.4 L97.0,431.6 L114.0,421.6 L131.0,409.7 L148.0,395.6 L159.3,385.0 L171.0,373.0 L182.2,360.2"/>
<path d="M195.6,343.4 L207.0,328.9 L212.0,323.7 L223.0,314.0 L228.0,308.0 L233.6,299.0 L250.0,269.2 L282.6,224.0 L299.7,198.0 L314.6,173.0 L328.7,147.0 L345.5,113.0 L358.6,82.0 L368.5,53.0 L375.8,24.0"/>
<path d="M78.4,456.0 L97.0,447.2 L117.0,435.7 L137.0,422.0 L157.0,406.2 L177.7,388.0 L198.4,368.0 L232.4,331.0 L241.1,320.5"/>
<path d="M253.7,303.4 L267.0,284.9 L294.4,249.0 L308.0,230.0 L323.1,207.0 L337.0,183.5 L356.3,147.0 L374.3,109.0 L389.6,73.0 L408.3,24.0"/>
<path d="M79.0,471.6 L113.0,454.8 L127.0,447.1 L141.0,438.5 L162.0,423.8 L211.0,385.2 L229.8,367.0 L257.6,337.0 L287.7,301.0 L314.0,267.5 L322.0,256.4"/>
<path d="M334.4,239.2 L354.6,208.0 L372.1,178.0 L390.0,144.0 L407.2,108.0 L424.7,68.0 L442.3,24.0"/>
<path d="M79.0,488.2 L125.0,466.8 L153.0,452.2 L176.0,437.9 L227.0,402.9 L242.4,390.0 L282.5,352.0 L296.0,337.9 L317.3,314.0 L342.6,283.0 L366.2,251.0 L390.0,215.0 L407.6,185.2"/>
<path d="M417.2,167.7 L430.2,143.0 L448.1,105.0 L464.2,66.0 L479.5,24.0"/>
<path d="M79.0,503.1 L121.0,487.0 L158.0,470.3 L196.6,450.0 L229.0,430.4 L260.2,409.0 L278.0,395.5 L294.0,382.5 L324.6,355.0 L354.0,325.0 L381.5,293.0 L405.7,261.0 L428.5,227.0 L450.3,190.0 L470.1,152.0 L488.7,111.0 L493.6,98.4"/>
<path d="M500.8,80.2 L505.2,69.0 L520.6,24.0"/>
<path d="M79.0,515.5 L106.0,508.3 L129.0,501.4 L172.0,486.4 L214.0,468.8 L235.0,458.8 L255.8,448.0 L274.0,437.8 L293.3,426.0 L311.5,414.0 L327.0,403.0 L346.0,388.6 L361.0,376.2 L377.0,362.2 L391.9,348.0 L410.0,329.5 L421.0,317.3 L436.0,299.6 L449.8,282.0 L463.7,263.0 L475.2,246.0 L487.2,227.0 L499.5,206.0 L509.8,187.0 L521.3,164.0 L526.9,151.6"/>
<path d="M534.2,135.1 L541.0,120.0 L558.5,74.0 L574.7,24.0"/>
</g>
</g>
<g fill="#fff" font-size="17.8px">
<text transform="translate(84.0,53.3) scale(1,1.06)">0.265</text>
<text transform="translate(158.0,55.3) scale(1,1.06)">0.230</text>
<text transform="translate(281.0,75.3) scale(1,1.06)">0.196</text>
<text transform="translate(159.0,85.3) scale(1,1.06)">0.226</text>
<text transform="translate(84.0,91.3) scale(1,1.06)">0.256</text>
<text transform="translate(124.0,120.3) scale(1,1.06)">0.235</text>
<text transform="translate(239.0,141.3) scale(1,1.06)">0.200</text>
<text transform="translate(481.0,94.3) scale(1,1.06)">0.170</text>
<text transform="translate(89.0,152.3) scale(1,1.06)">0.248</text>
<text transform="translate(145.6,151.3) scale(1,1.06)">0.222</text>
<text transform="translate(84.0,186.3) scale(1,1.06)">0.239</text>
<text transform="translate(185.0,194.3) scale(1,1.06)">0.205</text>
<text transform="translate(131.0,211.3) scale(1,1.06)">0.218</text>
<text transform="translate(505.0,148.3) scale(1,1.06)">0.166</text>
<text transform="translate(305.0,252.3) scale(1,1.06)">0.179</text>
<text transform="translate(131.0,266.3) scale(1,1.06)">0.209</text>
<text transform="translate(545.0,295.3) scale(1,1.06)">0.159</text>
<text transform="translate(84.0,316.3) scale(1,1.06)">0.213</text>
<text transform="translate(227.0,316.3) scale(1,1.06)">0.183</text>
<text transform="translate(162.0,356.3) scale(1,1.06)">0.187</text>
<text transform="translate(112.0,386.3) scale(1,1.06)">0.192</text>
<text transform="translate(543.0,388.3) scale(1,1.06)">0.157</text>
<text transform="translate(390.1,181.3) scale(1,1.06)">0.174</text>
<text transform="translate(539.7,230.3) scale(1,1.06)">0.162</text>
<text transform="translate(513.4,478.8) scale(1,1.06)">0.155</text>
</g>
<g fill="#fff"><text x="354.6" y="183.2" style="font-size:22.5px;font-weight:normal">ζ</text><text x="365.2" y="188.6" style="font-size:10.5px;font-weight:normal">O</text><text x="374.0" y="185.4" style="font-size:21.5px;font-weight:normal">=</text><text x="505.0" y="232.2" style="font-size:22.5px;font-weight:normal">ζ</text><text x="515.6" y="237.6" style="font-size:10.5px;font-weight:normal">O</text><text x="524.4" y="234.4" style="font-size:21.5px;font-weight:normal">=</text><text x="474.0" y="480.7" style="font-size:22.5px;font-weight:normal">ζ</text><text x="484.6" y="486.1" style="font-size:10.5px;font-weight:normal">O</text><text x="493.4" y="482.9" style="font-size:21.5px;font-weight:normal">=</text></g>
<g stroke="#000" stroke-width="2.2" fill="none">
<rect x="81.2" y="26.9" width="518.4" height="496.8"/>
<path d="M81.2,523.7 v6.6"/>
<path d="M155.3,523.7 v6.6"/>
<path d="M229.3,523.7 v6.6"/>
<path d="M303.4,523.7 v6.6"/>
<path d="M377.4,523.7 v6.6"/>
<path d="M451.5,523.7 v6.6"/>
<path d="M525.5,523.7 v6.6"/>
<path d="M599.6,523.7 v6.6"/>
<path d="M118.2,523.7 v4"/>
<path d="M192.3,523.7 v4"/>
<path d="M266.3,523.7 v4"/>
<path d="M340.4,523.7 v4"/>
<path d="M414.5,523.7 v4"/>
<path d="M488.5,523.7 v4"/>
<path d="M562.6,523.7 v4"/>
<path d="M81.2,523.7 h-6.6"/>
<path d="M81.2,452.7 h-6.6"/>
<path d="M81.2,381.8 h-6.6"/>
<path d="M81.2,310.8 h-6.6"/>
<path d="M81.2,239.8 h-6.6"/>
<path d="M81.2,168.8 h-6.6"/>
<path d="M81.2,97.9 h-6.6"/>
<path d="M81.2,26.9 h-6.6"/>
<path d="M81.2,488.2 h-4"/>
<path d="M81.2,417.2 h-4"/>
<path d="M81.2,346.3 h-4"/>
<path d="M81.2,275.3 h-4"/>
<path d="M81.2,204.3 h-4"/>
<path d="M81.2,133.4 h-4"/>
<path d="M81.2,62.4 h-4"/>
</g>
<g fill="#000" font-size="19.5px">
<text x="81.2" y="549.6" text-anchor="middle">10</text>
<text x="155.3" y="549.6" text-anchor="middle">12</text>
<text x="229.3" y="549.6" text-anchor="middle">14</text>
<text x="303.4" y="549.6" text-anchor="middle">16</text>
<text x="377.4" y="549.6" text-anchor="middle">18</text>
<text x="451.5" y="549.6" text-anchor="middle">20</text>
<text x="525.5" y="549.6" text-anchor="middle">22</text>
<text x="599.6" y="549.6" text-anchor="middle">24</text>
<text x="71.6" y="530.0" text-anchor="end">0.02</text>
<text x="71.6" y="459.0" text-anchor="end">0.06</text>
<text x="71.6" y="388.1" text-anchor="end">0.10</text>
<text x="71.6" y="317.1" text-anchor="end">0.14</text>
<text x="71.6" y="246.1" text-anchor="end">0.18</text>
<text x="71.6" y="175.1" text-anchor="end">0.22</text>
<text x="71.6" y="104.2" text-anchor="end">0.26</text>
<text x="71.6" y="33.2" text-anchor="end">0.30</text>
</g>
<text x="258.3" y="589.8" font-size="25.8px" fill="#000">Initial angle θ</text>
<text transform="translate(18.6,416.5) rotate(-90)" font-size="26px" fill="#000">Mass distribution ratio <tspan font-weight="normal">μ</tspan><tspan font-size="17px" dy="6">i</tspan></text>
<rect x="625.8" y="33.20" width="18.2" height="16.51" fill="#eaf2fb"/>
<rect x="625.8" y="49.41" width="18.2" height="16.51" fill="#d3e0e3"/>
<rect x="625.8" y="65.61" width="18.2" height="16.51" fill="#dad7f2"/>
<rect x="625.8" y="81.82" width="18.2" height="16.51" fill="#e8c4df"/>
<rect x="625.8" y="98.03" width="18.2" height="16.51" fill="#e591cf"/>
<rect x="625.8" y="114.23" width="18.2" height="16.51" fill="#b57bb3"/>
<rect x="625.8" y="130.44" width="18.2" height="16.51" fill="#9389e0"/>
<rect x="625.8" y="146.65" width="18.2" height="16.51" fill="#6e74b3"/>
<rect x="625.8" y="162.85" width="18.2" height="16.51" fill="#6159a6"/>
<rect x="625.8" y="179.06" width="18.2" height="16.51" fill="#3241bb"/>
<rect x="625.8" y="195.27" width="18.2" height="16.51" fill="#1428b8"/>
<rect x="625.8" y="211.47" width="18.2" height="16.51" fill="#0fe388"/>
<rect x="625.8" y="227.68" width="18.2" height="16.51" fill="#00aeeb"/>
<rect x="625.8" y="243.89" width="18.2" height="16.51" fill="#0878ba"/>
<rect x="625.8" y="260.09" width="18.2" height="16.51" fill="#03508a"/>
<rect x="625.8" y="276.30" width="18.2" height="16.51" fill="#0f5e69"/>
<rect x="625.8" y="292.51" width="18.2" height="16.51" fill="#14493f"/>
<rect x="625.8" y="308.71" width="18.2" height="16.51" fill="#a0d29f"/>
<rect x="625.8" y="324.92" width="18.2" height="16.51" fill="#a0d29f"/>
<rect x="625.8" y="341.13" width="18.2" height="16.51" fill="#a9c057"/>
<rect x="625.8" y="357.33" width="18.2" height="16.51" fill="#f7ee1f"/>
<rect x="625.8" y="373.54" width="18.2" height="16.51" fill="#f5d914"/>
<rect x="625.8" y="389.75" width="18.2" height="16.51" fill="#fbc324"/>
<rect x="625.8" y="405.95" width="18.2" height="16.51" fill="#fda413"/>
<rect x="625.8" y="422.16" width="18.2" height="16.51" fill="#ee9312"/>
<rect x="625.8" y="438.37" width="18.2" height="16.51" fill="#b84045"/>
<rect x="625.8" y="454.57" width="18.2" height="16.51" fill="#8e3438"/>
<rect x="625.8" y="470.78" width="18.2" height="16.51" fill="#634541"/>
<rect x="625.8" y="486.99" width="18.2" height="16.51" fill="#4c3028"/>
<rect x="625.8" y="503.19" width="18.2" height="16.51" fill="#4a2b1c"/>
<rect x="625.8" y="33.2" width="18.2" height="486.2" fill="none" stroke="#000" stroke-width="1.3"/>
<g fill="#000" font-size="15px">
<path d="M644.0,33.2 h5.6" stroke="#000" stroke-width="1.3"/>
<text x="651.6" y="38.2">1.112</text>
<path d="M644.0,65.6 h5.6" stroke="#000" stroke-width="1.3"/>
<text x="651.6" y="70.6">1.107</text>
<path d="M644.0,98.0 h5.6" stroke="#000" stroke-width="1.3"/>
<text x="651.6" y="103.0">1.101</text>
<path d="M644.0,130.4 h5.6" stroke="#000" stroke-width="1.3"/>
<text x="651.6" y="135.4">1.096</text>
<path d="M644.0,162.9 h5.6" stroke="#000" stroke-width="1.3"/>
<text x="651.6" y="167.9">1.091</text>
<path d="M644.0,195.3 h5.6" stroke="#000" stroke-width="1.3"/>
<text x="651.6" y="200.3">1.085</text>
<path d="M644.0,227.7 h5.6" stroke="#000" stroke-width="1.3"/>
<text x="651.6" y="232.7">1.080</text>
<path d="M644.0,260.1 h5.6" stroke="#000" stroke-width="1.3"/>
<text x="651.6" y="265.1">1.074</text>
<path d="M644.0,292.5 h5.6" stroke="#000" stroke-width="1.3"/>
<text x="651.6" y="297.5">1.069</text>
<path d="M644.0,324.9 h5.6" stroke="#000" stroke-width="1.3"/>
<text x="651.6" y="329.9">1.064</text>
<path d="M644.0,357.3 h5.6" stroke="#000" stroke-width="1.3"/>
<text x="651.6" y="362.3">1.058</text>
<path d="M644.0,389.7 h5.6" stroke="#000" stroke-width="1.3"/>
<text x="651.6" y="394.7">1.053</text>
<path d="M644.0,422.2 h5.6" stroke="#000" stroke-width="1.3"/>
<text x="651.6" y="427.2">1.048</text>
<path d="M644.0,454.6 h5.6" stroke="#000" stroke-width="1.3"/>
<text x="651.6" y="459.6">1.042</text>
<path d="M644.0,487.0 h5.6" stroke="#000" stroke-width="1.3"/>
<text x="651.6" y="492.0">1.037</text>
<path d="M644.0,519.4 h5.6" stroke="#000" stroke-width="1.3"/>
<text x="651.6" y="524.4">1.032</text>
</g>
<g stroke="#000" fill="none"><path d="M629.05,1.8 V15.9" stroke-width="1.7"/><path d="M622.7,3.9 C623.6,2.4 624.9,2.2 625.3,3.4 C626.0,7.5 625.4,11.9 628.6,12.1" stroke-width="1.9"/><path d="M635.1,2.2 C635.0,7.5 633.4,11.9 629.5,12.1" stroke-width="1.3"/></g><text x="636.5" y="16.8" style="font-size:15.2px;font-weight:normal" fill="#000" stroke="#000" stroke-width="0.45">O</text>
</svg>
</body></html>
